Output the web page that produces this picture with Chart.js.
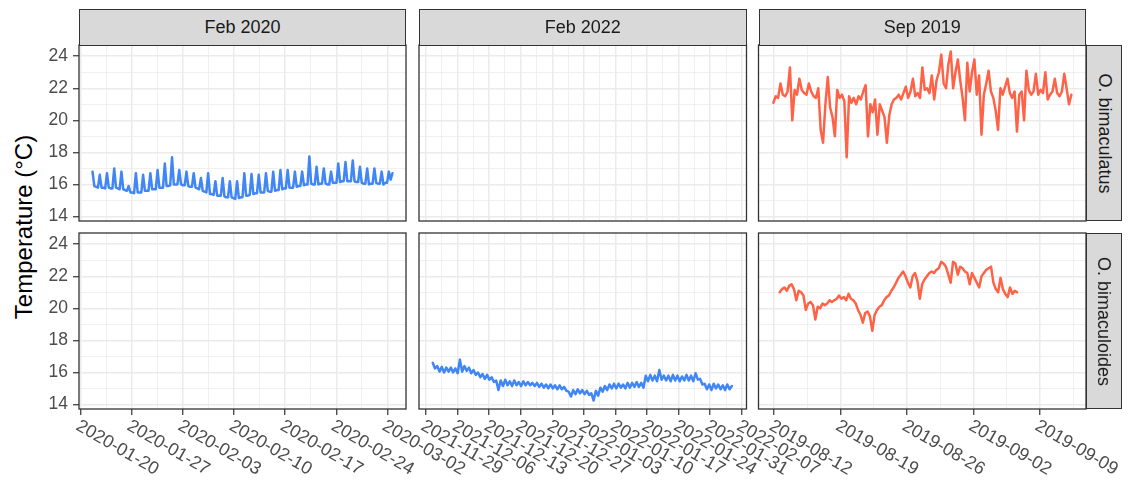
<!DOCTYPE html>
<html>
<head>
<meta charset="utf-8">
<script src="https://cdn.jsdelivr.net/npm/chart.js@4.4.1/dist/chart.umd.min.js"></script>
<style>
  body { margin: 0; background: #fff; }
  #wrap { position: relative; width: 1136px; height: 492px; font-family: "Liberation Sans", Arial, sans-serif; }
  #wrap canvas { position: absolute; left: 0; top: 0; }
  .strip { position: absolute; box-sizing: border-box; background: #D9D9D9; border: 1.3px solid #333; color: #1A1A1A; font-size: 18px; display: flex; align-items: center; justify-content: center; }
  .strip.right span { transform: rotate(90deg); white-space: nowrap; }
  #ytitle { position: absolute; left: 24px; top: 227px; transform: translate(-50%, -50%) rotate(-90deg); font-size: 24px; white-space: nowrap; color: #000; }
</style>
</head>
<body>
<div id="wrap">
  <div id="ytitle">Temperature (°C)</div>
</div>
<script>
// facet labels
const facetCols = ['Feb 2020', 'Feb 2022', 'Sep 2019'];
const facetRows = ['O. bimaculatus', 'O. bimaculoides'];

// x limits of each column, in dates (free x scales)
const colFrom = ['2020-01-19T17:30', '2021-11-27T11:00', '2019-08-10T08:24'];
const colTo   = ['2020-03-04T13:30', '2022-02-08T01:00', '2019-09-13T20:00'];

// y limits shared by all panels
const yMin = 13.72, yMax = 24.7;

// Feb 2020, O. bimaculatus (every ~6 h)
const bimFeb2020Span = ['2020-01-21T14:00', '2020-03-02T17:00'];
const bimFeb2020 = [16.8, 15.9, 15.85, 15.8,
  16.6, 15.8, 15.8, 15.75,    16.7, 15.8, 15.75, 15.75,   17.0, 15.8, 15.75, 15.7,
  16.8, 15.7, 15.65, 15.6,    15.9, 15.5, 15.5, 15.45,    16.7, 15.5, 15.5, 15.5,
  16.6, 15.6, 15.6, 15.6,     16.7, 15.7, 15.7, 15.7,     16.9, 15.8, 15.8, 15.8,
  17.3, 15.9, 15.9, 15.95,    17.7, 16.0, 16.0, 16.0,     16.9, 16.0, 15.95, 15.95,
  16.8, 15.9, 15.85, 15.85,   16.7, 15.8, 15.75, 15.7,    16.4, 15.6, 15.55, 15.5,
  16.7, 15.4, 15.4, 15.35,    16.2, 15.3, 15.3, 15.3,     16.4, 15.25, 15.2, 15.2,
  16.2, 15.2, 15.15, 15.1,    16.2, 15.15, 15.2, 15.2,    16.7, 15.3, 15.3, 15.35,
  16.65, 15.4, 15.45, 15.45,  16.6, 15.5, 15.5, 15.5,     16.7, 15.6, 15.55, 15.55,
  16.8, 15.6, 15.65, 15.65,   16.9, 15.7, 15.75, 15.75,   16.9, 15.8, 15.8, 15.8,
  16.8, 15.85, 15.9, 15.9,    16.8, 15.95, 16.0, 16.0,    17.75, 16.05, 16.0, 16.0,
  17.1, 16.0, 16.05, 16.05,   17.0, 16.05, 16.0, 16.0,    16.8, 16.1, 16.1, 16.1,
  17.3, 16.15, 16.2, 16.2,    17.4, 16.2, 16.2, 16.2,     17.5, 16.2, 16.15, 16.15,
  17.1, 16.1, 16.05, 16.05,   17.0, 16.0, 16.05, 16.05,   17.0, 16.1, 16.05, 16.05,
  16.8, 16.0, 16.1, 16.1,     16.8, 16.3, 16.7];

// Feb 2022, O. bimaculoides (every ~12 h)
const bmdFeb2022Span = ['2021-11-30T12:00', '2022-02-04T19:00'];
const bmdFeb2022 = [16.6, 16.25, 16.4, 16.05, 16.35, 16.0, 16.3, 16.05, 16.3, 16.0,
  16.25, 15.95, 16.8, 16.05, 16.4, 16.1, 16.3, 15.95, 16.15, 15.85,
  16.0, 15.7, 15.9, 15.6, 15.85, 15.55, 15.7, 15.4, 15.5, 14.9,
  15.5, 15.15, 15.55, 15.2, 15.45, 15.15, 15.5, 15.2, 15.4, 15.15,
  15.45, 15.2, 15.4, 15.2, 15.35, 15.15, 15.35, 15.1, 15.3, 15.05,
  15.25, 15.0, 15.25, 15.0, 15.2, 14.95, 15.2, 14.95, 15.1, 14.85,
  14.8, 14.5, 14.9, 14.65, 14.95, 14.7, 14.9, 14.65, 14.85, 14.6,
  14.7, 14.25, 14.85, 14.55, 15.05, 14.8, 15.15, 14.9, 15.25, 15.0,
  15.3, 15.0, 15.3, 15.05, 15.25, 15.0, 15.35, 15.05, 15.35, 15.1,
  15.4, 15.1, 15.35, 15.05, 15.8, 15.45, 15.85, 15.5, 15.8, 15.45,
  16.15, 15.55, 15.8, 15.5, 15.8, 15.45, 15.85, 15.5, 15.8, 15.45,
  15.75, 15.5, 15.85, 15.5, 15.8, 15.45, 15.95, 15.55, 15.6, 15.25,
  15.3, 14.95, 15.25, 14.9, 15.3, 15.0, 15.25, 14.95, 15.2, 14.9,
  15.25, 14.95, 15.15];

// Sep 2019, O. bimaculatus (every ~6 h)
const bimSep2019Span = ['2019-08-11T22:00', '2019-09-12T07:00'];
const bimSep2019 = [21.1, 21.5, 21.4, 22.3, 21.6, 21.5, 21.8, 23.3, 20.0, 21.9,
  21.6, 22.6, 21.9, 21.7, 21.6, 22.3, 21.8, 21.5, 21.4, 22.0,
  19.4, 18.6, 21.0, 22.7, 20.8, 20.2, 19.0, 21.9, 21.4, 21.6,
  21.2, 17.7, 21.5, 21.1, 21.4, 21.0, 21.5, 21.3, 21.8, 22.2,
  19.0, 21.0, 20.5, 21.3, 19.1, 21.0, 20.6, 20.2, 18.6, 20.3,
  21.0, 21.3, 21.4, 21.6, 21.3, 21.7, 22.1, 21.4, 21.8, 22.6,
  21.5, 21.7, 21.4, 23.3, 21.9, 22.0, 21.7, 22.8, 21.3, 22.5,
  23.0, 24.1, 22.3, 22.0, 23.5, 24.3, 22.0, 23.0, 23.8, 22.5,
  21.4, 20.0, 23.6, 21.8, 23.0, 23.8, 21.6, 22.8, 19.1, 21.6,
  22.3, 23.1, 21.8, 21.4, 20.6, 19.4, 22.0, 21.6, 22.1, 22.6,
  21.7, 21.4, 21.8, 19.3, 21.6, 21.8, 20.0, 23.1, 21.9, 21.6,
  21.8, 22.9, 21.6, 21.9, 21.7, 23.0, 21.3, 21.6, 21.8, 22.6,
  21.7, 21.5, 21.8, 22.9, 22.0, 21.0, 21.6];

// Sep 2019, O. bimaculoides (every ~6 h)
const bmdSep2019Span = ['2019-08-12T14:00', '2019-09-06T14:00'];
const bmdSep2019 = [21.0, 21.2, 21.3, 21.1, 21.4, 21.5, 21.2, 20.5, 21.1, 21.0,
  20.8, 19.9, 20.3, 20.4, 20.2, 19.3, 20.1, 20.0, 20.3, 20.2,
  20.3, 20.5, 20.4, 20.5, 20.6, 20.8, 20.6, 20.7, 20.5, 20.9,
  20.6, 20.5, 20.3, 19.9, 19.6, 19.1, 19.7, 19.8, 19.5, 18.6,
  19.6, 19.9, 20.1, 20.2, 20.5, 20.7, 20.8, 21.1, 21.3, 21.6,
  21.9, 22.1, 22.3, 22.0, 21.6, 21.3, 22.0, 22.2, 21.7, 20.6,
  21.5, 21.8, 22.0, 22.2, 22.3, 22.2, 22.4, 22.5, 22.9, 22.8,
  22.6, 22.1, 21.6, 22.9, 22.8, 22.1, 22.6, 22.5, 22.3, 22.2,
  21.5, 22.2, 21.9, 21.6, 21.3, 22.0, 22.2, 22.4, 22.5, 22.6,
  21.6, 21.2, 21.0, 21.9, 21.2, 20.9, 20.7, 21.3, 20.9, 21.1,
  21.0];

const blue = '#4086F4';
const red = '#FF6347';

// panel boxes [left, right] per column and [top, bottom] per row
const colBox = [[79, 406], [419, 746.5], [758.5, 1086]];
const rowBox = [[45, 221], [233, 409]];

// day number counted from Monday 1970-01-05, so multiples of 7 fall on Mondays
const day = s => (Date.parse(s + 'Z') - Date.UTC(1970, 0, 5)) / 864e5;
const isMajor = v => Math.abs(v / 7 - Math.round(v / 7)) < 1e-6;
const label = v => new Date(Date.UTC(1970, 0, 5) + Math.round(v) * 864e5).toISOString().slice(0, 10);
const tickFont = '"Liberation Sans", Arial, sans-serif';

function points(span, values) {
  const a = day(span[0]), b = day(span[1]);
  return values.map((y, i) => ({ x: a + (b - a) * i / (values.length - 1), y: y }));
}

// which series sits in which panel: [row][col]
const panels = [
  [[bimFeb2020Span, bimFeb2020, blue], null, [bimSep2019Span, bimSep2019, red]],
  [null, [bmdFeb2022Span, bmdFeb2022, blue], [bmdSep2019Span, bmdSep2019, red]]
];

const panelBox = {
  id: 'panelBox',
  afterDraw(chart) {
    const { ctx, chartArea: a } = chart;
    ctx.save();
    ctx.strokeStyle = '#333333';
    ctx.lineWidth = 1.3;
    ctx.strokeRect(a.left, a.top, a.right - a.left, a.bottom - a.top);
    ctx.restore();
  }
};

// rotated date labels under the bottom row (text turned clockwise)
const dateLabels = {
  id: 'dateLabels',
  afterDraw(chart) {
    const { ctx, chartArea: a } = chart;
    const xs = chart.scales.x;
    ctx.save();
    ctx.fillStyle = '#4D4D4D';
    ctx.font = '18px ' + tickFont;
    ctx.textAlign = 'left';
    ctx.textBaseline = 'top';
    xs.ticks.forEach(t => {
      if (!isMajor(t.value)) return;
      const px = xs.getPixelForValue(t.value);
      ctx.save();
      ctx.translate(px + 1, a.bottom + 8);
      ctx.rotate(Math.PI / 6);
      ctx.fillText(label(t.value), 0, 0);
      ctx.restore();
    });
    ctx.restore();
  }
};

const wrap = document.getElementById('wrap');

for (let r = 0; r < 2; r++) {
  for (let c = 0; c < 3; c++) {
    const cv = document.createElement('canvas');
    cv.width = 1136;
    cv.height = 492;
    wrap.appendChild(cv);
    const p = panels[r][c];
    const datasets = p ? [{
      data: points(p[0], p[1]),
      borderColor: p[2],
      borderWidth: 2.5,
      borderJoinStyle: 'round',
      borderCapStyle: 'round',
      pointRadius: 0,
      tension: 0
    }] : [];
    const bottom = r === 1, left = c === 0;
    const yWidth = left ? 60 : 0;
    new Chart(cv, {
      type: 'line',
      data: { datasets: datasets },
      options: {
        responsive: false,
        animation: false,
        devicePixelRatio: 1,
        layout: { padding: { left: colBox[c][0] - yWidth, right: 1136 - colBox[c][1], top: rowBox[r][0], bottom: 492 - rowBox[r][1] } },
        plugins: { legend: { display: false }, tooltip: { enabled: false } },
        scales: {
          x: {
            type: 'linear',
            min: day(colFrom[c]),
            max: day(colTo[c]),
            afterFit: s => { s.height = 0; },
            border: { display: false },
            ticks: { display: false, stepSize: 3.5, includeBounds: false, autoSkip: false },
            grid: {
              color: '#EBEBEB',
              lineWidth: ctx => isMajor(ctx.tick.value) ? 1.5 : 0.75,
              drawTicks: bottom,
              tickLength: 6,
              tickWidth: 1.2,
              tickColor: ctx => isMajor(ctx.tick.value) ? '#333333' : 'rgba(0,0,0,0)'
            }
          },
          y: {
            min: yMin,
            max: yMax,
            afterFit: s => { s.width = yWidth; },
            border: { display: false },
            ticks: {
              display: left,
              stepSize: 1,
              includeBounds: false,
              autoSkip: false,
              padding: 5,
              color: '#4D4D4D',
              font: { size: 17.5, family: tickFont },
              callback: v => (Math.round(v) % 2 === 0 ? String(Math.round(v)) : '')
            },
            grid: {
              color: '#EBEBEB',
              lineWidth: ctx => Math.round(ctx.tick.value) % 2 === 0 ? 1.5 : 0.75,
              drawTicks: left,
              tickLength: 6,
              tickWidth: 1.2,
              tickColor: ctx => Math.round(ctx.tick.value) % 2 === 0 ? '#333333' : 'rgba(0,0,0,0)'
            }
          }
        }
      },
      plugins: bottom ? [panelBox, dateLabels] : [panelBox]
    });
  }
}

// strips
facetCols.forEach((t, c) => {
  const d = document.createElement('div');
  d.className = 'strip';
  d.style.left = colBox[c][0] + 'px';
  d.style.width = (colBox[c][1] - colBox[c][0]) + 'px';
  d.style.top = '9px';
  d.style.height = '36.5px';
  d.textContent = t;
  wrap.appendChild(d);
});
facetRows.forEach((t, r) => {
  const d = document.createElement('div');
  d.className = 'strip right';
  d.style.left = '1085.5px';
  d.style.width = '36.5px';
  d.style.top = rowBox[r][0] + 'px';
  d.style.height = (rowBox[r][1] - rowBox[r][0]) + 'px';
  const s = document.createElement('span');
  s.textContent = t;
  d.appendChild(s);
  wrap.appendChild(d);
});
</script>
</body>
</html>
